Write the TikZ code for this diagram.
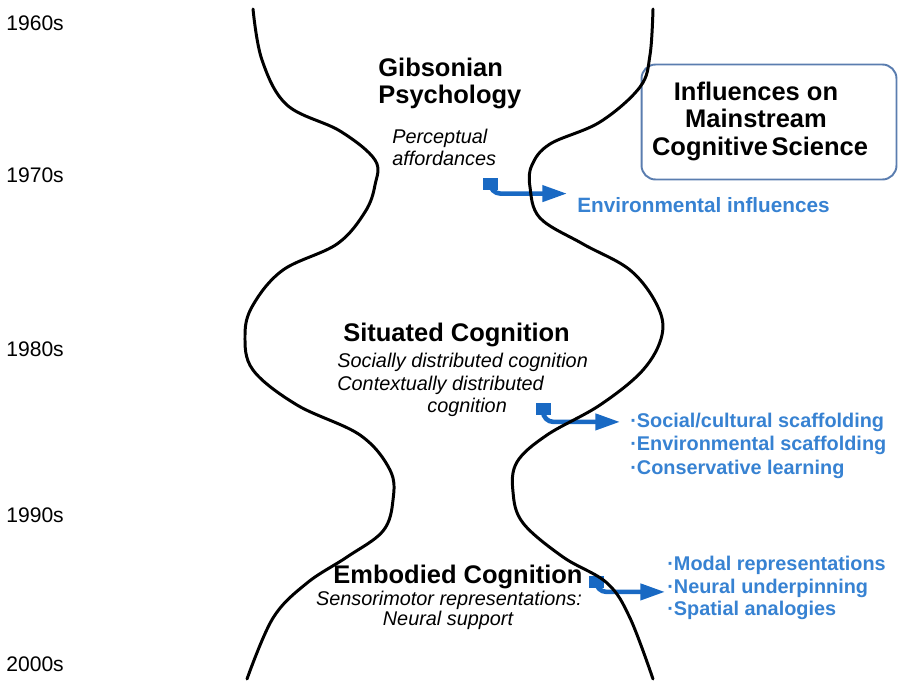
\documentclass[tikz,border=0pt]{standalone}
\usepackage{fontspec}
\setmainfont{Liberation Sans}
\usetikzlibrary{arrows.meta}
\definecolor{flowblue}{RGB}{25,105,195}
\definecolor{textblue}{RGB}{55,130,210}
\definecolor{boxblue}{RGB}{90,125,175}

\begin{document}
\begin{tikzpicture}[line cap=round,line join=round,x=0.02cm,y=-0.02cm,
    decade/.style={anchor=base west,inner sep=0pt,font=\fontsize{12}{14}\selectfont},
    heading/.style={inner sep=0pt,font=\fontsize{14.5}{17}\selectfont\bfseries},
    note/.style={inner sep=0pt,font=\fontsize{11.3}{13}\selectfont\itshape},
    infl/.style={anchor=base west,inner sep=0pt,text=textblue,font=\fontsize{11.8}{14}\selectfont\bfseries},
    item/.style={infl,font=\fontsize{11.3}{14}\selectfont\bfseries},
    stub/.style={fill=flowblue,inner sep=0pt,minimum width=0.3cm,minimum height=0.24cm},
    flow/.style={draw=flowblue,line width=2.6pt,line cap=butt,rounded corners=6pt,-{Triangle[length=14pt,width=9pt]}},
    wave/.style={line width=1.7pt},
    infobox/.style={draw=boxblue,line width=1.1pt,rounded corners=8pt,minimum width=5.1cm,minimum height=2.3cm}]

  \useasboundingbox (0,0) rectangle (899,683);

  % time axis
  \foreach \lbl/\yy in {1960s/30,1970s/182,1980s/356,1990s/522,2000s/671}{
    \node[decade] (d\lbl) at (6,\yy) {\lbl};
  }

  % frameworks
  \node[heading,anchor=base west] (gib) at (378,76) {Gibsonian};
  \node[heading,anchor=base west] (psy) at (378,103) {Psychology};
  \node[note,anchor=base west] (perc) at (392,143) {Perceptual};
  \node[note,anchor=base west] (aff) at (392,165) {affordances};

  \node[heading,anchor=base west] (sit) at (343,341) {Situated Cognition};
  \node[note,anchor=base west] (soc1) at (337,367) {Socially distributed cognition};
  \node[note,anchor=base west] (ctx1) at (337,390) {Contextually distributed};
  \node[note,anchor=base west] (ctx2) at (427,412) {cognition};

  \node[heading,anchor=base] (emb) at (458,583) {Embodied Cognition};
  \node[note,anchor=base] (sen1) at (449,605) {Sensorimotor representations:};
  \node[note,anchor=base] (sen2) at (448,625) {Neural support};

  % mainstream box
  \node[infobox] (box) at (769,122) {};
  \node[heading,anchor=base] (box1) at (756,100) {Influences on};
  \node[heading,anchor=base] (box2) at (756,127) {Mainstream};
  \node[heading,anchor=base] (box3) at (760,155) {Cognitive\hspace{-2pt} Science};

  % influences
  \node[infl] (env) at (577,212) {Environmental influences};
  \node[item] (soc) at (630,427) {·Social/cultural scaffolding};
  \node[item] (envs) at (630,450) {·Environmental scaffolding};
  \node[item] (cons) at (630,474) {·Conservative learning};
  \node[item] (modal) at (667,570) {·Modal representations};
  \node[item] (neur) at (667,593) {·Neural underpinning};
  \node[item] (spat) at (667,615) {·Spatial analogies};

  \node[stub] (s1) at (490,184) {};
  \node[stub] (s2) at (543,409) {};
  \node[stub] (s3) at (596,582) {};
  \draw[flow] (s1.center) |- ([shift={(-10,-11)}]env.west);
  \draw[flow] (s2.center) |- ([shift={(-10,0)}]soc.west);
  \draw[flow] (s3.center) |- ([shift={(-2,4)}]neur.west);

  % the two walls
  \draw[wave] plot[smooth,tension=0.6] coordinates {(253,9) (262,60) (287,105) (340,131) (375,160) (375,185) (365,212) (337,244) (283,270) (253,305) (245,335) (253,370) (297,405) (360,435) (390,470) (393,500) (383,531) (347,557) (307,583) (273,618) (247,679)};
  \draw[wave] plot[smooth,tension=0.6] coordinates {(653,9) (650,55) (640,87) (600,122) (550,144) (532,165) (530,187) (540,218) (583,244) (630,270) (657,305) (662,335) (643,370) (600,405) (547,435) (517,462) (513,492) (523,523) (563,557) (607,583) (630,618) (653,679)};
\end{tikzpicture}
\end{document}
